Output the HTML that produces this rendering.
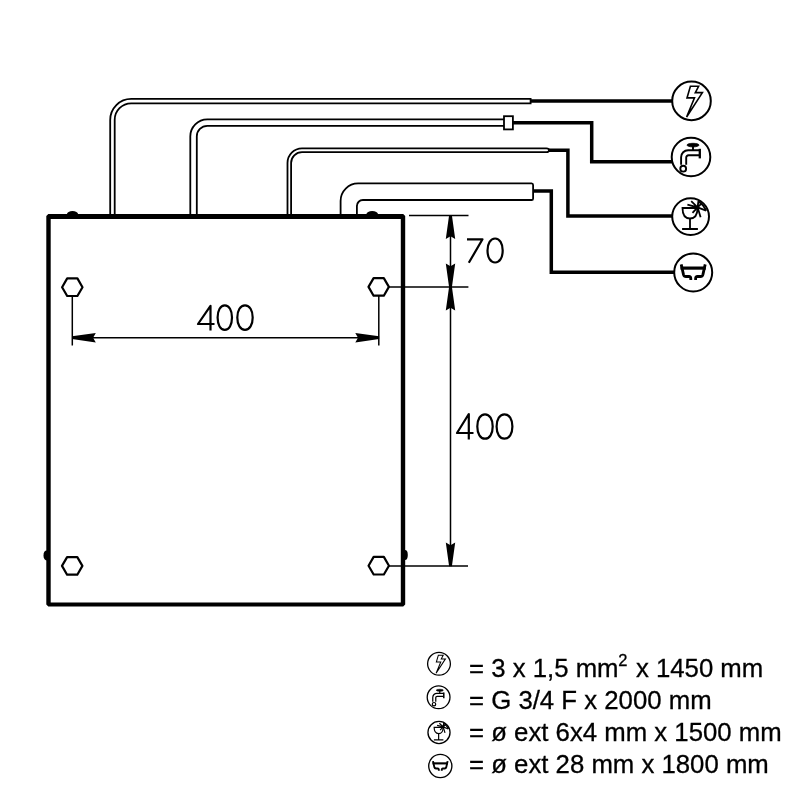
<!DOCTYPE html>
<html><head><meta charset="utf-8">
<style>
html,body{margin:0;padding:0;background:#fff;width:800px;height:800px;overflow:hidden}
svg{will-change:transform}
svg{display:block}
.t{font-family:"Liberation Sans",sans-serif;font-size:25.75px;fill:#000;stroke:#000;stroke-width:0.3px}
</style></head><body>
<svg width="800" height="800" viewBox="0 0 800 800">
<defs>
  <path id="arr" d="M0.3,-1.4 L-23.5,-4.7 L-20.8,0 L-23.5,4.7 L0.3,1.4 Z"/>
</defs>
<rect x="0" y="0" width="800" height="800" fill="#fff"/>
<g fill="none" stroke="#000" stroke-width="1.8">
  <path d="M110.2,215 V119.9 A21,21 0 0 1 131.2,98.9 H530.6 V103.3 H131.2 A16.5,16.5 0 0 0 114.7,119.9 V215"/>
  <path d="M190.3,215 V136.4 A17,17 0 0 1 207.3,119.4 H504"/>
  <path d="M196.8,215 V136.4 A10.5,10.5 0 0 1 207.3,125.9 H504"/>
  <rect x="504" y="116.2" width="8.9" height="13.2"/>
  <path d="M287.5,215 V162.9 A14.5,14.5 0 0 1 302,148.4 H546.5 Q549,148.4 549,150.3 Q549,152.2 546.5,152.2 H302 A10.9,10.9 0 0 0 291.1,163.1 V215"/>
  <path d="M340.6,215 V200.9 A17.5,17.5 0 0 1 358.1,183.4 H531.6 Q533.1,183.4 533.1,185 V198.4 Q533.1,200 531.6,200 H362.9 A6,6 0 0 0 356.9,206 V215"/>
</g>
<g fill="none" stroke="#000" stroke-width="3.5" stroke-linejoin="miter">
  <path d="M530.6,101 H672"/>
  <path d="M512.9,122.75 H591.7 V161.75 H672"/>
  <path d="M549,150.3 H567.9 V216 H672"/>
  <path d="M533.1,191 H551.3 V272.3 H674"/>
</g>
<path fill="#000" fill-rule="evenodd" d="M48.3,214.1 H403.2 L405.2,216.1 V604.4 L403.2,606.4 H48.3 L46.3,604.4 V216.1 Z M50.7,218.9 V602.4 H400.8 V218.9 Z"/>
<g fill="#000">
  <ellipse cx="72.5" cy="214.3" rx="5.6" ry="3.4"/>
  <ellipse cx="372.2" cy="214.3" rx="5.8" ry="3.4"/>
  <ellipse cx="46.5" cy="555.4" rx="3" ry="5"/>
  <ellipse cx="405" cy="555" rx="2.8" ry="5"/>
</g>
<g fill="none" stroke="#000" stroke-width="2.2" stroke-linejoin="round">
  <polygon points="62.1,287.2 67.2,278.4 77.4,278.4 82.5,287.2 77.4,296 67.2,296"/>
  <polygon points="368.5,286.9 373.6,278.1 383.8,278.1 388.9,286.9 383.8,295.7 373.6,295.7"/>
  <polygon points="62,565.9 67.1,557.1 77.3,557.1 82.4,565.9 77.3,574.7 67.1,574.7"/>
  <polygon points="368.55,565.7 373.65,556.9 383.85,556.9 388.95,565.7 383.85,574.5 373.65,574.5"/>
</g>
<g fill="none" stroke="#000" stroke-width="1.5">
  <path d="M72.3,296 V345.5"/>
  <path d="M378.8,295.7 V345.5"/>
  <path d="M72.3,337.7 H378.8"/>
  <path d="M409,215.5 H468.5"/>
  <path d="M388.9,286.9 H468.4"/>
  <path d="M388.95,565.9 H468"/>
  <path d="M450.5,215.5 V566"/>
</g>
<g fill="#000">
  <use href="#arr" transform="translate(72.3,337.7) rotate(180)"/>
  <use href="#arr" transform="translate(378.8,337.7)"/>
  <use href="#arr" transform="translate(450.5,215.5) rotate(-90)"/>
  <use href="#arr" transform="translate(450.5,287) rotate(90)"/>
  <use href="#arr" transform="translate(450.5,287) rotate(-90)"/>
  <use href="#arr" transform="translate(450.5,566) rotate(90)"/>
</g>
<g fill="none" stroke="#000" stroke-width="2.2" stroke-linejoin="round">
  <path d="M210.5,330.5 V305.8 L198,324 H214.5"/>
  <path d="M224.8,305.40000000000003 C229.12,305.40000000000003 232.0,310.28 232.0,317.6 C232.0,324.92 229.12,329.8 224.8,329.8 C220.48,329.8 217.60000000000002,324.92 217.60000000000002,317.6 C217.60000000000002,310.28 220.48,305.40000000000003 224.8,305.40000000000003 Z"/>
  <path d="M245,305.40000000000003 C249.62,305.40000000000003 252.7,310.28 252.7,317.6 C252.7,324.92 249.62,329.8 245,329.8 C240.38,329.8 237.3,324.92 237.3,317.6 C237.3,310.28 240.38,305.40000000000003 245,305.40000000000003 Z"/>
  <path d="M467,239.3 H482.5 L468.8,262.8"/>
  <path d="M495.1,238.5 C499.66,238.5 502.70000000000005,243.30 502.70000000000005,250.5 C502.70000000000005,257.70 499.66,262.5 495.1,262.5 C490.54,262.5 487.5,257.70 487.5,250.5 C487.5,243.30 490.54,238.5 495.1,238.5 Z"/>
  <path d="M468.8,439.6 V414 L457,433 H473.5"/>
  <path d="M485,414.3 C489.62,414.3 492.7,419.18 492.7,426.5 C492.7,433.82 489.62,438.7 485,438.7 C480.38,438.7 477.3,433.82 477.3,426.5 C477.3,419.18 480.38,414.3 485,414.3 Z"/>
  <path d="M504.5,414.3 C509.24,414.3 512.4,419.18 512.4,426.5 C512.4,433.82 509.24,438.7 504.5,438.7 C499.76,438.7 496.6,433.82 496.6,426.5 C496.6,419.18 499.76,414.3 504.5,414.3 Z"/>
</g>
<g transform="translate(691.5,100.9) scale(1)"><circle cx="0" cy="0" r="19.3" fill="none" stroke="#000" stroke-width="2"/>
<path d="M-1.1,-14.6 L7.1,-14.6 L3.8,-8.3 L10.9,-8.3 L-4.9,16.1 L3,-3 L-4.5,-3 Z" fill="none" stroke="#000" stroke-width="1.6" stroke-linejoin="miter"/></g>
<g transform="translate(691,157) scale(1)"><circle cx="0" cy="0" r="19.3" fill="none" stroke="#000" stroke-width="2"/>
<g fill="none" stroke="#000" stroke-width="1.9">
<ellipse cx="2" cy="-11.9" rx="6" ry="1.8" fill="#000" stroke-width="0.8"/>
<path d="M2,-11 V-6.9"/>
<path d="M8.8,-6.8 H-2.9 A7,7 0 0 0 -9.9,0.2 V7.7"/>
<path d="M8.8,-1.7 H-2.5 A2.3,2.3 0 0 0 -4.8,0.6 V7.7"/>
<path d="M8.8,-8.2 V1.4" stroke-width="2.3"/>
<circle cx="-7.8" cy="11.7" r="2.9"/>
</g></g>
<g transform="translate(690.6,216.6) scale(1)"><circle cx="0" cy="0" r="18.4" fill="none" stroke="#000" stroke-width="2"/>
<g fill="none" stroke="#000" stroke-width="1.8">
<path d="M-8.1,-8.6 H6.9 Q6.9,1.9 -0.6,1.9 Q-8.1,1.9 -8.1,-8.6 Z"/>
<path d="M-0.6,1.9 V12.4 M-8.5,12.4 H7.3"/>
<path d="M7,-9.3 L0.6,-15.5 M7,-9.3 L-3.2,-11.9 M7,-9.3 L1.9,-3.8 M7,-9.3 L10,0.7 M7,-9.3 L7.8,-15.5 M7,-9.3 L11.2,-13.4 M7,-9.3 L15.5,-5.9"/>
<path d="M7.8,-15.3 Q12.8,-11.8 15.8,-5.9"/>
</g></g>
<g transform="translate(693.2,272.4) scale(1)"><circle cx="0" cy="0" r="19.0" fill="none" stroke="#000" stroke-width="2"/>
<g fill="none" stroke="#000" stroke-width="2.8" stroke-linejoin="round">
<path d="M-12.7,-4.3 H12.6" stroke-width="3.2"/>
<path d="M-12,-8 L-9.7,2.2 Q-9.2,4.1 -7.2,4.1 H-4.2 Q-2.4,4.1 -2.4,6.1 V7.6"/>
<path d="M12,-8 L9.7,2.2 Q9.2,4.1 7.2,4.1 H4.2 Q2.4,4.1 2.4,6.1 V7.6"/>
</g></g>
<g transform="translate(439,663.8) scale(0.59)"><circle cx="0" cy="0" r="19.3" fill="none" stroke="#000" stroke-width="2.2"/>
<path d="M-1.1,-14.6 L7.1,-14.6 L3.8,-8.3 L10.9,-8.3 L-4.9,16.1 L3,-3 L-4.5,-3 Z" fill="none" stroke="#000" stroke-width="1.7600000000000002" stroke-linejoin="miter"/></g>
<g transform="translate(438.6,697.3) scale(0.59)"><circle cx="0" cy="0" r="19.3" fill="none" stroke="#000" stroke-width="2.2"/>
<g fill="none" stroke="#000" stroke-width="2.09">
<ellipse cx="2" cy="-11.9" rx="6" ry="1.8" fill="#000" stroke-width="0.8800000000000001"/>
<path d="M2,-11 V-6.9"/>
<path d="M8.8,-6.8 H-2.9 A7,7 0 0 0 -9.9,0.2 V7.7"/>
<path d="M8.8,-1.7 H-2.5 A2.3,2.3 0 0 0 -4.8,0.6 V7.7"/>
<path d="M8.8,-8.2 V1.4" stroke-width="2.53"/>
<circle cx="-7.8" cy="11.7" r="2.9"/>
</g></g>
<g transform="translate(439,732.5) scale(0.6)"><circle cx="0" cy="0" r="18.4" fill="none" stroke="#000" stroke-width="2.2"/>
<g fill="none" stroke="#000" stroke-width="1.9800000000000002">
<path d="M-8.1,-8.6 H6.9 Q6.9,1.9 -0.6,1.9 Q-8.1,1.9 -8.1,-8.6 Z"/>
<path d="M-0.6,1.9 V12.4 M-8.5,12.4 H7.3"/>
<path d="M7,-9.3 L0.6,-15.5 M7,-9.3 L-3.2,-11.9 M7,-9.3 L1.9,-3.8 M7,-9.3 L10,0.7 M7,-9.3 L7.8,-15.5 M7,-9.3 L11.2,-13.4 M7,-9.3 L15.5,-5.9"/>
<path d="M7.8,-15.3 Q12.8,-11.8 15.8,-5.9"/>
</g></g>
<g transform="translate(440.3,766) scale(0.61)"><circle cx="0" cy="0" r="19.0" fill="none" stroke="#000" stroke-width="2.2"/>
<g fill="none" stroke="#000" stroke-width="3.08" stroke-linejoin="round">
<path d="M-12.7,-4.3 H12.6" stroke-width="3.5200000000000005"/>
<path d="M-12,-8 L-9.7,2.2 Q-9.2,4.1 -7.2,4.1 H-4.2 Q-2.4,4.1 -2.4,6.1 V7.6"/>
<path d="M12,-8 L9.7,2.2 Q9.2,4.1 7.2,4.1 H4.2 Q2.4,4.1 2.4,6.1 V7.6"/>
</g></g>
<g class="t">
  <text x="469" y="676.5">= 3 x 1,5 mm<tspan font-size="16.5" dy="-10.4" dx="-0.3">2</tspan><tspan dy="10.4" dx="1.3"> x 1450 mm</tspan></text>
  <text x="469" y="708.75">= G 3/4 F x 2000 mm</text>
  <text x="469" y="740.6">= ø ext 6x4 mm x 1500 mm</text>
  <text x="469" y="772.5">= ø ext 28 mm x 1800 mm</text>
</g>
</svg>
</body></html>
